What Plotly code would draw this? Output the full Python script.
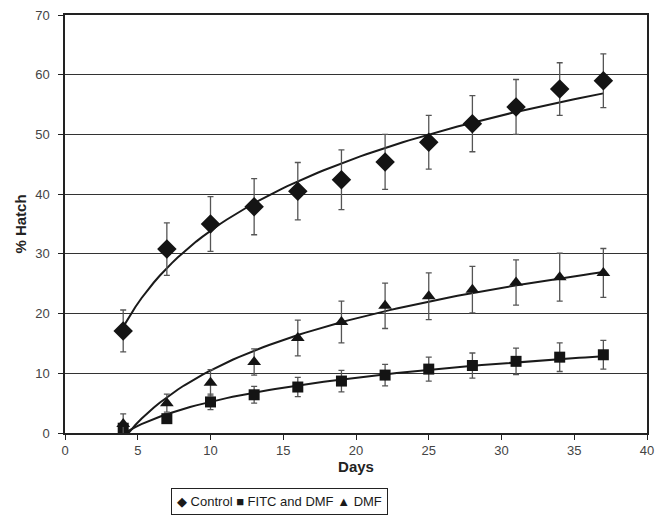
import numpy as np
import plotly.graph_objects as go

days = [4, 7, 10, 13, 16, 19, 22, 25, 28, 31, 34, 37]
control = [17.1, 30.8, 35.0, 37.9, 40.5, 42.4, 45.4, 48.7, 51.8, 54.6, 57.6, 59.0]
control_err = [3.5, 4.4, 4.6, 4.7, 4.8, 5.0, 4.6, 4.5, 4.7, 4.6, 4.4, 4.5]
fitc = [0.8, 2.4, 5.2, 6.4, 7.7, 8.7, 9.7, 10.7, 11.3, 12.0, 12.7, 13.1]
fitc_err = [0.8, 0.8, 1.3, 1.4, 1.6, 1.8, 1.8, 2.0, 2.1, 2.2, 2.4, 2.4]
dmf = [1.5, 5.0, 8.4, 11.9, 15.9, 18.6, 21.3, 22.9, 24.0, 25.2, 26.1, 26.8]
dmf_err = [1.7, 1.5, 2.2, 2.2, 3.0, 3.5, 3.8, 3.9, 3.9, 3.8, 4.0, 4.1]

x_ticks = [0, 5, 10, 15, 20, 25, 30, 35, 40]
y_ticks = [0, 10, 20, 30, 40, 50, 60, 70]

FONT = "Liberation Sans, Arial, sans-serif"
fig = go.Figure()

series = [
    ("Control", control, control_err, "diamond", 15, "◆"),
    ("FITC and DMF", fitc, fitc_err, "square", 11, "■"),
    ("DMF", dmf, dmf_err, "triangle-up", 12, "▲"),
]

# logarithmic trend lines fitted to data
xd = np.array(days, dtype=float)
xs = np.linspace(min(days), max(days), 80)
for name, vals, err, sym, sz, glyph in series:
    a, b = np.polyfit(np.log(xd), np.array(vals), 1)
    fig.add_trace(go.Scatter(x=xs, y=a * np.log(xs) + b, mode="lines",
                             line=dict(color="#1a1a1a", width=2),
                             showlegend=False, hoverinfo="skip"))

for name, vals, err, sym, sz, glyph in series:
    fig.add_trace(go.Scatter(
        x=days, y=vals, mode="markers", name=name, showlegend=False,
        marker=dict(symbol=sym, size=sz, color="#141414", line=dict(width=0)),
        error_y=dict(type="data", array=err, visible=True,
                     color="#555555", thickness=1.3, width=3),
    ))

legend_text = " ".join(f"{g} {n}" for n, _, _, _, _, g in series)
fig.add_annotation(
    text=legend_text, xref="paper", yref="paper", x=0.3677, y=-0.1647,
    xanchor="center", yanchor="middle", showarrow=False,
    font=dict(family=FONT, size=13, color="#1a1a1a"),
    bordercolor="#222222", borderwidth=1, borderpad=5, bgcolor="white",
)

fig.update_layout(
    width=667, height=518,
    paper_bgcolor="white", plot_bgcolor="white",
    margin=dict(l=65, r=20, t=8, b=85),
    font=dict(family=FONT, size=13, color="#333333"),
    showlegend=False,
    xaxis=dict(range=[0, 40], tickvals=x_ticks, ticks="outside", ticklen=5,
               tickcolor="#222222", showline=True, linecolor="#222222", linewidth=1.5,
               mirror=True, showgrid=False, zeroline=False,
               title=dict(text="<b>Days</b>", font=dict(family=FONT, size=15, color="#222222"),
                          standoff=2),
               tickfont=dict(size=13, color="#444444")),
    yaxis=dict(range=[0, 70], tickvals=y_ticks, ticks="outside", ticklen=5,
               tickcolor="#222222", showline=True, linecolor="#222222", linewidth=1.5,
               mirror=True, showgrid=True, gridcolor="#333333", gridwidth=1.3,
               zeroline=False, ticklabelstandoff=6, ticklabeloverflow="allow",
               title=dict(text="<b>% Hatch</b>", font=dict(family=FONT, size=15, color="#222222"),
                          standoff=5),
               tickfont=dict(size=13, color="#444444")),
)

fig.write_html("out.html", config={"displayModeBar": False},
               post_script="document.body.style.margin='0';")
